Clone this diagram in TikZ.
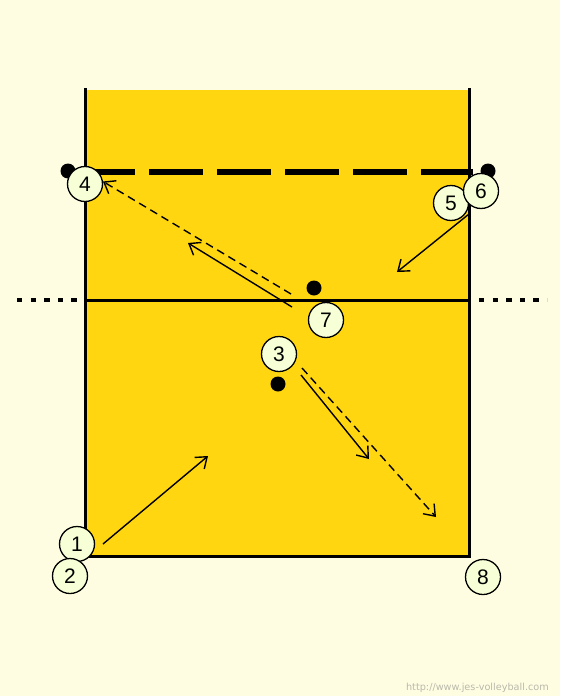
\documentclass[tikz,border=0pt]{standalone}
\usepackage{fontspec}
\setmainfont{Liberation Sans}
\newfontfamily\urlfont{DejaVu Sans}
\usetikzlibrary{arrows.meta}
\definecolor{bgcream}{RGB}{255,253,225}
\definecolor{courtyellow}{RGB}{255,214,15}
\definecolor{playerfill}{RGB}{246,255,214}
\definecolor{urlgray}{RGB}{185,185,172}
\begin{document}
\begin{tikzpicture}[x=1pt, y=-1pt, >={Straight Barb[length=10pt,width=15pt]},
    player/.style={draw, circle, fill=playerfill, line width=1.3pt, minimum size=35pt, inner sep=0pt, font=\fontsize{21}{21}\selectfont},
    ball/.style={circle, fill=black, minimum size=15pt, inner sep=0pt},
    run/.style={->, line width=1.4pt},
    pass/.style={->, line width=1.4pt, dash pattern=on 8pt off 5pt}]
    % court
    \fill[bgcream] (0,0) rectangle (560,696);
    \useasboundingbox (0,0) rectangle (560,696);
    \fill[courtyellow] (85,90) rectangle (469,556);
    \draw[line width=3pt] (85,88) |- (469,556) -- (469,88);
    \draw[line width=5.5pt, dash pattern=on 54pt off 14pt] (81,172) -- (473,172);
    \draw[line width=3pt] (85,300) -- (469,300);
    \draw[line width=3.3pt, dash pattern=on 5.3pt off 8.3pt] (17,300) -- (85,300);
    \draw[line width=3.3pt, dash pattern=on 5.3pt off 8.3pt] (479,300) -- (547,300);
    % balls
    \node[ball] (b4) at (68,171) {};
    \node[ball] (b6) at (488,171) {};
    \node[ball] (b7) at (314,288) {};
    \node[ball] (b3) at (278,384) {};
    % players
    \node[player] (p4) at (85,184) {4};
    \node[player] (p5) at (451,203) {5};
    \node[player] (p6) at (481,191) {6};
    \node[player] (p7) at (326,320) {7};
    \node[player] (p3) at (279,354) {3};
    \node[player] (p1) at (77,544) {1};
    \node[player] (p2) at (70,576) {2};
    \node[player] (p8) at (483,577) {8};
    % runs and passes
    \coordinate (s1) at (103,544);
    \coordinate (e1) at (208,456);
    \coordinate (s6) at (469,214);
    \coordinate (e6) at (397,272);
    \coordinate (s7) at (292,307);
    \coordinate (e7) at (188,243);
    \coordinate (d7) at (291,294);
    \coordinate (s3) at (301,375);
    \coordinate (e3) at (369,459);
    \coordinate (d3) at (302,368);
    \coordinate (f3) at (436,517);
    \draw[run] (s1) -- (e1);
    \draw[run] (s6) -- (e6);
    \draw[run] (s7) -- (e7);
    \draw[pass] (d7) -- (p4.8);
    \draw[run] (s3) -- (e3);
    \draw[pass] (d3) -- (f3);
    \node[font=\urlfont\fontsize{9.7}{9.7}\selectfont, text=urlgray, anchor=east, inner sep=0pt] (url) at (549,688) {http://www.jes-volleyball.com};
\end{tikzpicture}
\end{document}
